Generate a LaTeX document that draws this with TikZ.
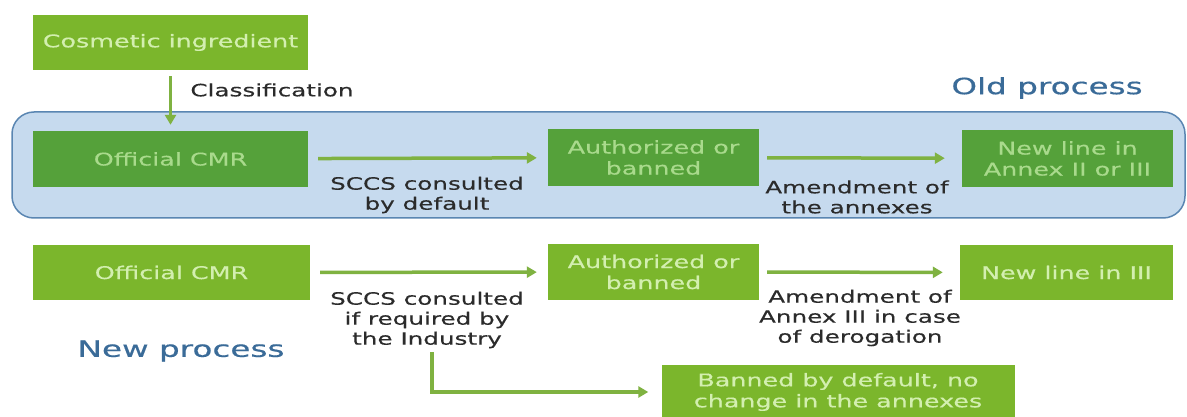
\documentclass[tikz,border=0pt]{standalone}
\usepackage{fontspec}
\setmainfont{DejaVu Sans}[FakeStretch=1.45, FakeBold=0.4]
\usetikzlibrary{arrows.meta}
\definecolor{lightgr}{HTML}{7BB62C}
\definecolor{darkgr}{HTML}{55A13A}
\definecolor{paletxt}{HTML}{D3EFB0}
\definecolor{paletxtd}{HTML}{A9DA8C}
\definecolor{arrowgr}{HTML}{7FB241}
\definecolor{panelbg}{HTML}{C6DAEE}
\definecolor{panelln}{HTML}{5A86B2}
\definecolor{procblue}{HTML}{3A6B98}
\definecolor{lbltxt}{HTML}{2B2B2B}
\begin{document}
\begin{tikzpicture}[x=1pt,y=-1pt,
  box/.style={rectangle, fill=lightgr, text=paletxt, align=center, inner sep=0pt,
    font=\fontsize{17.5}{21}\selectfont},
  oldbox/.style={box, fill=darkgr, text=paletxtd},
  lbl/.style={inner sep=0pt, align=center, text=lbltxt, font=\fontsize{17}{20}\selectfont},
  proc/.style={inner sep=0pt, text=procblue, font=\fontsize{22.5}{26}\selectfont},
  flow/.style={draw=arrowgr, line width=3.5pt, -{Triangle[length=10pt,width=11pt]}}]
\useasboundingbox[fill=white] (0,0) rectangle (1187,417);
% old process panel
\draw[fill=panelbg, draw=panelln, line width=1.5pt, rounded corners=22pt] (12,112) rectangle (1185,218);
\node[box, minimum width=275pt, minimum height=55pt] (ing) at (170.5,42.5){Cosmetic ingredient};
\node[lbl] (classif) at (272,90){Classification};
\node[proc] (oldproc) at (1047,88){Old process};
\node[oldbox, minimum width=275pt, minimum height=56pt] (ocmrA) at (170.5,159){Official CMR};
\node[oldbox, minimum width=211pt, minimum height=57pt] (authA) at (653.5,157.5){Authorized or\\banned};
\node[oldbox, minimum width=211pt, minimum height=57pt] (lineA) at (1067.5,158.5){New line in\\Annex II or III};
\node[lbl] (sccsA) at (427,195){SCCS consulted\\by default};
\node[lbl] (amendA) at (857,197){Amendment of\\the annexes};
\draw[flow, shorten <=6pt, shorten >=6pt] (ing) -- (ocmrA);
\draw[flow, shorten <=10pt, shorten >=11pt] (ocmrA) -- (authA);
\draw[flow, shorten <=8pt, shorten >=17pt] (authA) -- (lineA);
% new process
\node[box, minimum width=277pt, minimum height=55pt] (ocmrB) at (171.5,272.5){Official CMR};
\node[box, minimum width=211pt, minimum height=56pt] (authB) at (653.5,272){Authorized or\\banned};
\node[box, minimum width=213pt, minimum height=55pt] (lineB) at (1066.5,272.5){New line in III};
\node[box, minimum width=353pt, minimum height=54pt] (bannedB) at (838,392){Banned by default, no\\change in the annexes};
\node[lbl] (sccsB) at (427,320){SCCS consulted\\if required by\\the Industry};
\node[lbl] (amendB) at (860,318){Amendment of\\Annex III in case\\of derogation};
\node[proc] (newproc) at (181,351){New process};
\draw[flow, shorten <=10pt, shorten >=11pt] (ocmrB) -- (authB);
\draw[flow, shorten <=8pt, shorten >=17pt] (authB) -- (lineB);
\draw[flow, shorten <=4pt, shorten >=13pt] ([xshift=5pt]sccsB.south) |- (bannedB.west);
\end{tikzpicture}
\end{document}
